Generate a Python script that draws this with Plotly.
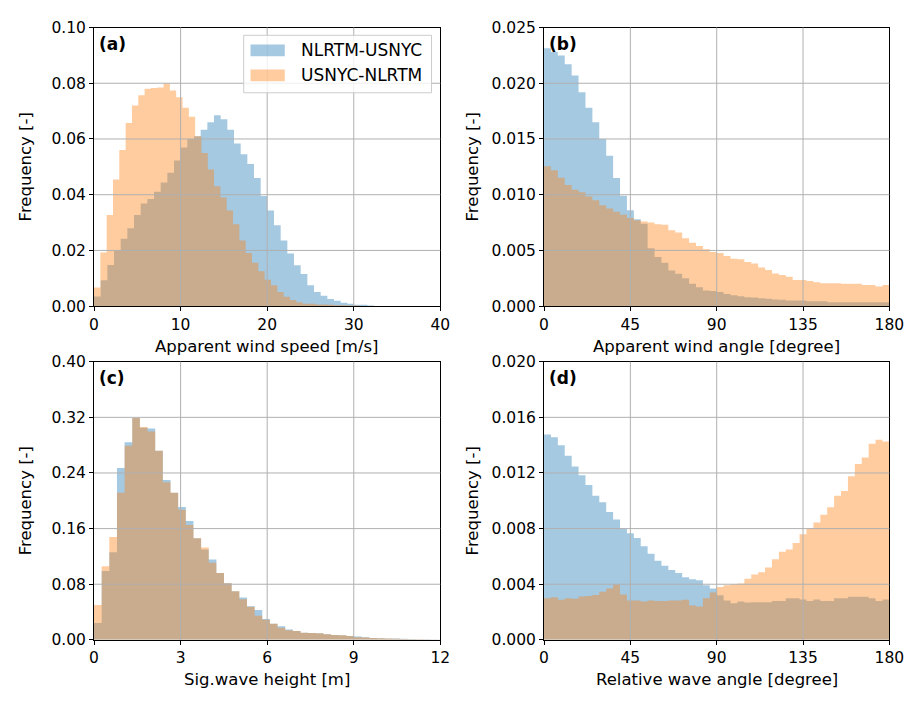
import numpy as np
import plotly.graph_objects as go

W, H = 921, 701

# ---------------- data (histogram bin heights) ----------------
series_names = ["NLRTM-USNYC", "USNYC-NLRTM"]

# (a) Apparent wind speed [m/s]
a_bin_start = [0.0, 0.0]
a_bin_width = [0.77, 0.73]
a_blue = [0.0035, 0.0093, 0.0148, 0.0198, 0.0242, 0.028, 0.0327, 0.0368, 0.0385, 0.0411,
          0.0444, 0.0479, 0.0523, 0.0569, 0.060, 0.061, 0.0633, 0.066, 0.0685, 0.0671,
          0.0633, 0.0584, 0.0545, 0.051, 0.046, 0.0395, 0.0343, 0.029, 0.0236, 0.0189,
          0.0147, 0.0115, 0.0075, 0.0051, 0.0037, 0.0026, 0.0019, 0.0012, 0.0009, 0.0005,
          0.0005, 0.0002, 0.0001, 0.0001, 0.0001, 0.0, 0.0, 0.0, 0.0, 0.0]
a_orange = [0.0067, 0.0193, 0.0327, 0.0455, 0.056, 0.0657, 0.072, 0.0757, 0.078, 0.0783,
            0.0785, 0.080, 0.0774, 0.075, 0.0712, 0.068, 0.061, 0.055, 0.049, 0.043,
            0.039, 0.0343, 0.0294, 0.0236, 0.0191, 0.0156, 0.0125, 0.0095, 0.0075, 0.0051,
            0.0034, 0.0022, 0.0014, 0.0009, 0.0009, 0.0006, 0.0006, 0.0005, 0.0003, 0.0003,
            0.0002, 0.0002, 0.0001, 0.0001, 0.0001, 0.0001, 0.0, 0.0, 0.0, 0.0]

# (b) Apparent wind angle [degree]
b_bin_start = [0.0, 0.0]
b_bin_width = [3.6, 3.6]
b_blue = [0.02315, 0.0228, 0.0225, 0.0217, 0.0207, 0.0192, 0.0178, 0.0165, 0.0150, 0.0135,
          0.0115, 0.0099, 0.0086, 0.0078, 0.0074, 0.0052, 0.0044, 0.0039, 0.0032, 0.0029,
          0.0025, 0.0020, 0.0017, 0.0014, 0.00135, 0.00126, 0.0011, 0.00097, 0.0009, 0.0008,
          0.00078, 0.0007, 0.00067, 0.0006, 0.00058, 0.0005, 0.0005, 0.0005, 0.00045, 0.00044,
          0.00044, 0.00036, 0.00036, 0.00036, 0.00036, 0.00036, 0.00036, 0.00036, 0.00036, 0.00036]
b_orange = [0.01255, 0.0122, 0.01153, 0.01086, 0.01045, 0.01022, 0.00984, 0.0095, 0.00905, 0.00876,
            0.00846, 0.0082, 0.0079, 0.0077, 0.0076, 0.0075, 0.00735, 0.0073, 0.0068, 0.0066,
            0.0061, 0.0057, 0.0054, 0.0051, 0.00485, 0.00476, 0.0045, 0.00426, 0.0042, 0.00397,
            0.00382, 0.00347, 0.00324, 0.00294, 0.0028, 0.00265, 0.00235, 0.00235, 0.00226, 0.00215,
            0.00206, 0.00206, 0.00206, 0.002, 0.002, 0.002, 0.0019, 0.0019, 0.00176, 0.0019]

# (c) Sig. wave height [m]
c_bin_start = [0.0, 0.0]
c_bin_width = [0.265, 0.265]
c_blue = [0.0243, 0.099, 0.126, 0.247, 0.284, 0.319, 0.305, 0.304, 0.272, 0.230,
          0.2115, 0.191, 0.171, 0.146, 0.130, 0.1156, 0.096, 0.0815, 0.070, 0.061,
          0.0485, 0.043, 0.030, 0.023, 0.0197, 0.015, 0.0126, 0.0103, 0.0098, 0.0094,
          0.008, 0.0071, 0.0066, 0.0056, 0.0047, 0.0037, 0.0028, 0.0023, 0.002, 0.0018,
          0.0015, 0.0012, 0.001, 0.0008, 0.0006, 0.0004]
c_orange = [0.050, 0.106, 0.148, 0.2115, 0.279, 0.319, 0.306, 0.2995, 0.272, 0.2265,
            0.2115, 0.187, 0.165, 0.146, 0.133, 0.111, 0.096, 0.0815, 0.070, 0.0585,
            0.0475, 0.0346, 0.029, 0.023, 0.0173, 0.014, 0.0126, 0.0103, 0.0098, 0.0094,
            0.008, 0.0071, 0.0066, 0.0056, 0.0037, 0.0035, 0.0028, 0.0023, 0.002, 0.0016,
            0.0013, 0.001, 0.0008, 0.0006, 0.0004, 0.0003]

# (d) Relative wave angle [degree]
d_bin_start = [0.0, 0.0]
d_bin_width = [3.6, 3.6]
d_blue = [0.01476, 0.01457, 0.0140, 0.01324, 0.01247, 0.01184, 0.01113, 0.01036, 0.0099, 0.0092,
          0.00866, 0.0080, 0.00767, 0.00732, 0.00674, 0.0062, 0.00568, 0.00533, 0.00503, 0.0048,
          0.00451, 0.00435, 0.00428, 0.00393, 0.0037, 0.0032, 0.00283, 0.00264, 0.00276, 0.00269,
          0.0027, 0.0027, 0.0027, 0.0028, 0.0028, 0.003, 0.003, 0.0029, 0.0028, 0.0029,
          0.0028, 0.0028, 0.003, 0.0030, 0.0031, 0.0031, 0.0031, 0.003, 0.0028, 0.0029]
d_orange = [0.003, 0.00306, 0.00288, 0.003, 0.00295, 0.00311, 0.00316, 0.00323, 0.00346, 0.0037,
            0.00398, 0.00327, 0.00283, 0.00283, 0.00276, 0.00283, 0.0028, 0.0028, 0.00283, 0.00283,
            0.00288, 0.00248, 0.0024, 0.003, 0.0034, 0.00381, 0.00393, 0.004, 0.00405, 0.0044,
            0.0047, 0.00487, 0.0052, 0.0058, 0.00634, 0.0065, 0.00697, 0.0076, 0.0080, 0.00844,
            0.009, 0.00954, 0.01036, 0.01071, 0.01176, 0.01265, 0.01312, 0.0141, 0.01439, 0.01427]

panel_labels = ["(a)", "(b)", "(c)", "(d)"]
x_titles = ["Apparent wind speed [m/s]", "Apparent wind angle [degree]",
            "Sig.wave height [m]", "Relative wave angle [degree]"]
y_title = "Frequency [-]"
x_ticks = [[0, 10, 20, 30, 40], [0, 45, 90, 135, 180], [0, 3, 6, 9, 12], [0, 45, 90, 135, 180]]
y_ticks = [[0.00, 0.02, 0.04, 0.06, 0.08, 0.10],
           [0.000, 0.005, 0.010, 0.015, 0.020, 0.025],
           [0.00, 0.08, 0.16, 0.24, 0.32, 0.40],
           [0.000, 0.004, 0.008, 0.012, 0.016, 0.020]]
y_fmt = [".2f", ".3f", ".2f", ".3f"]

panels = [
    (a_bin_start, a_bin_width, a_blue, a_orange),
    (b_bin_start, b_bin_width, b_blue, b_orange),
    (c_bin_start, c_bin_width, c_blue, c_orange),
    (d_bin_start, d_bin_width, d_blue, d_orange),
]

# ---------------- styling ----------------
FONT = "DejaVu Sans"
colors = ["rgba(31,119,180,0.4)", "rgba(255,127,14,0.4)"]
GRID = "#b0b0b0"

def px_x(p):
    return p / W

def px_y(p):
    return 1 - p / H

# plot-area pixel boxes (left, right, top, bottom)
boxes = [(91, 445, 19, 305), (551, 904, 19, 305), (91, 445, 362, 647.5), (551, 904, 362, 647.5)]

fig = go.Figure()
layout = dict(
    width=W, height=H, margin=dict(l=0, r=0, t=0, b=0),
    paper_bgcolor="white", plot_bgcolor="white",
    showlegend=False,
    font=dict(family=FONT, size=15, color="black"),
)

annotations = []
shapes = []

for i, (starts, widths, blue, orange) in enumerate(panels):
    xa = "x" if i == 0 else f"x{i+1}"
    ya = "y" if i == 0 else f"y{i+1}"
    for s, (vals, st, wd) in enumerate(zip([blue, orange], starts, widths)):
        vals = np.asarray(vals, dtype=float)
        edges = st + wd * np.arange(len(vals) + 1)
        yv = np.append(vals, vals[-1])
        # step histogram outline, filled to zero (continuous, no seams)
        xs = np.concatenate([[edges[0]], edges, [edges[-1]]])
        ys = np.concatenate([[0.0], yv, [0.0]])
        fig.add_trace(go.Scatter(
            x=xs, y=ys, mode="lines", line=dict(width=0, shape="hv"),
            fill="toself", fillcolor=colors[s], name=series_names[s],
            xaxis=xa, yaxis=ya, hoverinfo="skip",
        ))
    l, r, t, b = boxes[i]
    axkw = dict(showline=True, linecolor="black", linewidth=1, mirror=True,
                showgrid=False, layer="above traces",
                ticks="outside", ticklen=4, tickwidth=1, tickcolor="black",
                zeroline=False, tickfont=dict(family=FONT, size=15.5, color="black"))
    layout["xaxis" if i == 0 else f"xaxis{i+1}"] = dict(
        domain=[px_x(l), px_x(r)], anchor=ya, range=[x_ticks[i][0], x_ticks[i][-1]],
        tickmode="array", tickvals=x_ticks[i], ticktext=[str(v) for v in x_ticks[i]], **axkw)
    layout["yaxis" if i == 0 else f"yaxis{i+1}"] = dict(
        domain=[px_y(b), px_y(t)], anchor=xa, range=[y_ticks[i][0], y_ticks[i][-1]],
        tickmode="array", tickvals=y_ticks[i],
        ticktext=[format(v, y_fmt[i]) for v in y_ticks[i]], **axkw)

    # grid lines drawn above the bars (matplotlib default order)
    for v in x_ticks[i][1:-1]:
        shapes.append(dict(type="line", xref=xa, yref=f"{ya} domain", x0=v, x1=v, y0=0, y1=1,
                           line=dict(color=GRID, width=1), layer="above"))
    for v in y_ticks[i][1:-1]:
        shapes.append(dict(type="line", xref=f"{xa} domain", yref=ya, x0=0, x1=1, y0=v, y1=v,
                           line=dict(color=GRID, width=1), layer="above"))

    # panel label
    annotations.append(dict(text=f"<b>{panel_labels[i]}</b>", xref="paper", yref="paper",
                            x=px_x(l + 3), y=px_y(t + 17), xanchor="left", yanchor="middle",
                            showarrow=False, font=dict(family=FONT, size=17, color="black")))
    # x title
    annotations.append(dict(text=x_titles[i], xref="paper", yref="paper",
                            x=px_x((l + r) / 2), y=px_y(b + 41), xanchor="center", yanchor="middle",
                            showarrow=False, font=dict(family=FONT, size=16.5, color="black")))
    # y title
    yx = 21 if i in (0, 2) else 478
    annotations.append(dict(text=y_title, xref="paper", yref="paper", textangle=-90,
                            x=px_x(yx), y=px_y((t + b) / 2), xanchor="center", yanchor="middle",
                            showarrow=False, font=dict(family=FONT, size=16.5, color="black")))

# manual matplotlib-style legend in panel (a)
shapes.append(dict(type="rect", xref="paper", yref="paper",
                   x0=px_x(244), x1=px_x(436), y0=px_y(86), y1=px_y(27),
                   line=dict(color="#cccccc", width=1), fillcolor="rgba(255,255,255,0.8)",
                   layer="above"))
for s, yc in enumerate([42.5, 68.2]):
    shapes.append(dict(type="rect", xref="paper", yref="paper",
                       x0=px_x(251), x1=px_x(286), y0=px_y(yc + 6), y1=px_y(yc - 6),
                       line=dict(width=0), fillcolor=colors[s], layer="above"))
    annotations.append(dict(text=series_names[s], xref="paper", yref="paper",
                            x=px_x(301), y=px_y(yc), xanchor="left", yanchor="middle",
                            showarrow=False, font=dict(family=FONT, size=17, color="black")))

layout["annotations"] = annotations
layout["shapes"] = shapes
fig.update_layout(**layout)
fig.write_html("out.html")
